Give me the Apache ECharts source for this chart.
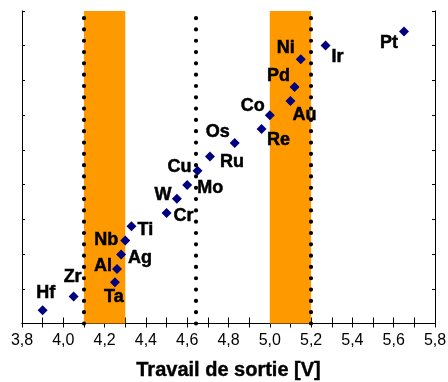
<!DOCTYPE html>
<html>
<head>
<meta charset="utf-8">
<script src="https://cdn.jsdelivr.net/npm/echarts@6/dist/echarts.min.js"></script>
<style>html,body{margin:0;padding:0;background:#fff;}#c{width:448px;height:382px;}</style>
</head>
<body>
<div id="c"></div>
<script>
// ---- data ----
const elements = ['Hf','Zr','Ta','Al','Ag','Nb','Ti','Cr','W','Mo','Cu','Ru','Os','Re','Co','Au','Pd','Ni','Ir','Pt'];
const workFunction = [3.90,4.05,4.25,4.26,4.28,4.30,4.33,4.50,4.55,4.60,4.65,4.71,4.83,4.96,5.00,5.10,5.12,5.15,5.27,5.65];
const rankValue = [0.38,0.78,1.19,1.57,1.99,2.39,2.80,3.18,3.59,3.99,4.40,4.81,5.20,5.60,6.00,6.41,6.81,7.61,8.01,8.41];
const bandRanges = [[4.1,4.3],[5.0,5.2]];
const dottedLines = [4.1, 4.64, 5.2];
const xTitle = 'Travail de sortie [V]';

// ---- layout (label offsets from point, px) ----
const labelOffsets = {
  Hf:[3,-17], Zr:[-1,-19], Ta:[-1,15], Al:[-14,-3], Ag:[19,4], Nb:[-19,0], Ti:[14,4],
  Cr:[17,3], W:[-14,-4], Mo:[23,3], Cu:[-18,-4], Ru:[22,6], Os:[-17,-11], Re:[17,11],
  Co:[-17,-9], Au:[14,14], Pd:[-16,-11], Ni:[-15,-11], Ir:[12,12], Pt:[-15,12]
};

const chart = echarts.init(document.getElementById('c'), null, {renderer:'canvas'});
const pts = elements.map((e,i)=>({name:e, value:[workFunction[i], rankValue[i]], label:{offset:labelOffsets[e]}}));
const fmt = v => v.toFixed(1).replace('.', ',');
const axisLine = {show:true, lineStyle:{color:'#000', width:1}};

chart.setOption({
  animation:false,
  backgroundColor:'#fff',
  grid:{left:22, right:13, top:11, bottom:58.5, containLabel:false, outerBoundsMode:'none'},
  xAxis:[{
    type:'value', min:3.8, max:5.8, interval:0.2, position:'bottom',
    name:xTitle, nameLocation:'middle', nameGap:37,
    nameTextStyle:{fontFamily:'Liberation Sans', fontWeight:'bold', fontSize:20, color:'#000',
      textBorderColor:'#000', textBorderWidth:0.4},
    axisLine:axisLine,
    axisTick:{show:true, inside:true, length:6, lineStyle:{color:'#000'}},
    minorTick:{show:true, splitNumber:2, length:6, lineStyle:{color:'#000'}},
    axisLabel:{formatter:fmt, fontFamily:'Liberation Sans', fontSize:16, color:'#000', margin:9},
    splitLine:{show:false}
  },{
    type:'value', min:3.8, max:5.8, interval:0.2, position:'top',
    axisLine:axisLine,
    axisTick:{show:true, inside:true, length:4, lineStyle:{color:'#000'}},
    minorTick:{show:true, splitNumber:2, length:4, lineStyle:{color:'#000'}},
    axisLabel:{show:false}, splitLine:{show:false}
  }],
  yAxis:[{
    type:'value', min:0, max:9, interval:1, position:'left',
    axisLine:axisLine,
    axisTick:{show:true, inside:true, length:3, lineStyle:{color:'#000'}},
    axisLabel:{show:false}, splitLine:{show:false}
  },{
    type:'value', min:0, max:9, interval:1, position:'right',
    axisLine:axisLine,
    axisTick:{show:true, inside:true, length:3, lineStyle:{color:'#000'}},
    axisLabel:{show:false}, splitLine:{show:false}
  }],
  series:[{
    type:'scatter', data:[], silent:true,
    markArea:{silent:true, itemStyle:{color:'#FF9900', opacity:1},
      data: bandRanges.map(r=>[{xAxis:r[0]},{xAxis:r[1]}])}
  },{
    type:'scatter', data:[], silent:true,
    markLine:{silent:true, symbol:['none','none'], label:{show:false},
      lineStyle:{color:'#000', width:4.2, type:[0.01,11.3], cap:'round', opacity:1},
      emphasis:{disabled:true},
      data: dottedLines.map(v=>({xAxis:v}))}
  },{
    type:'scatter', data:pts, symbol:'diamond', symbolSize:10, z:5,
    itemStyle:{color:'#000080', opacity:1},
    label:{show:true, position:'inside', formatter:'{b}', fontFamily:'Liberation Sans',
      fontWeight:'bold', fontSize:18, color:'#000', textBorderColor:'#000', textBorderWidth:0.5,
      align:'center', verticalAlign:'middle'}
  }]
});
</script>
</body>
</html>
